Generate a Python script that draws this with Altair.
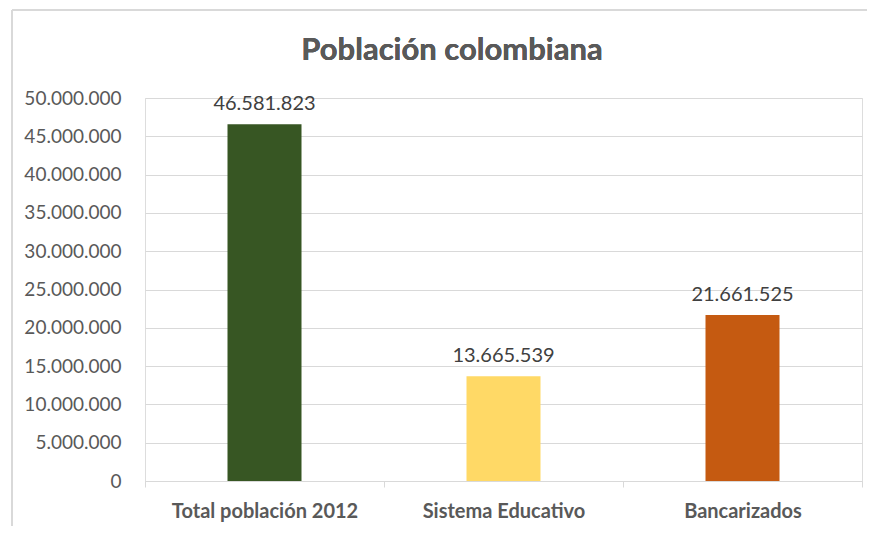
import altair as alt
import pandas as pd

categories = ["Total población 2012", "Sistema Educativo", "Bancarizados"]
values = [46581823, 13665539, 21661525]
colors = ["#375623", "#FFD966", "#C55A11"]
y_ticks = [0, 5000000, 10000000, 15000000, 20000000, 25000000, 30000000, 35000000, 40000000, 45000000, 50000000]
title_text = "Población colombiana"

df = pd.DataFrame({"cat": categories, "val": values, "color": colors})

FONT = "Lato"
GREY = "#595959"

x = alt.X("cat:N", sort=categories, title=None,
          scale=alt.Scale(paddingInner=0, paddingOuter=0),
          axis=alt.Axis(labelAngle=0, labelFont=FONT, labelFontSize=20, labelFontWeight="bold",
                        labelColor=GREY, labelPadding=14, labelLimit=400,
                        domainColor="#d9d9d9", tickColor="#d9d9d9",
                        tickBand="extent", tickSize=6, grid=False))
y = alt.Y("val:Q", title=None,
          scale=alt.Scale(domain=[0, 50000000], nice=False),
          axis=alt.Axis(values=y_ticks, format=",d", labelFont=FONT, labelFontSize=19,
                        labelColor=GREY, labelPadding=24, domain=False, ticks=False,
                        labelOverlap=False, gridColor="#d9d9d9", gridWidth=1))

base = alt.Chart(df)
bars = base.mark_bar(size=74).encode(x=x, y=y, color=alt.Color("color:N", scale=None))
labels = base.mark_text(baseline="bottom", dy=-10, font=FONT, fontSize=20, color="#404040").encode(
    x=x, y=y, text=alt.Text("val:Q", format=",d"))

title = alt.Chart(df).mark_text(font=FONT, fontSize=31, fontWeight="bold", color=GREY,
                                baseline="middle", align="center").encode(
    x=alt.value(307), y=alt.value(-47), text=alt.value(title_text))

border_top = alt.Chart(df).mark_rule(color="#d9d9d9", strokeWidth=2).encode(
    x=alt.value(-133), x2=alt.value(760), y=alt.value(-88))
border_left = alt.Chart(df).mark_rule(color="#d9d9d9", strokeWidth=2).encode(
    x=alt.value(-133), y=alt.value(-88), y2=alt.value(460))

chart = (alt.layer(bars, labels, title, border_top, border_left)
         .properties(width=717, height=383,
                     padding={"left": 137, "top": 90, "right": 5, "bottom": 45},
                     autosize=alt.AutoSizeParams(type="none"))
         .configure_view(stroke=None)
         .configure(locale=alt.Locale(number=alt.NumberLocale(decimal=",", thousands=".", grouping=[3],
                                                               currency=["$", ""]))))

chart.save("out.html", embed_options={"renderer": "svg", "actions": False})
